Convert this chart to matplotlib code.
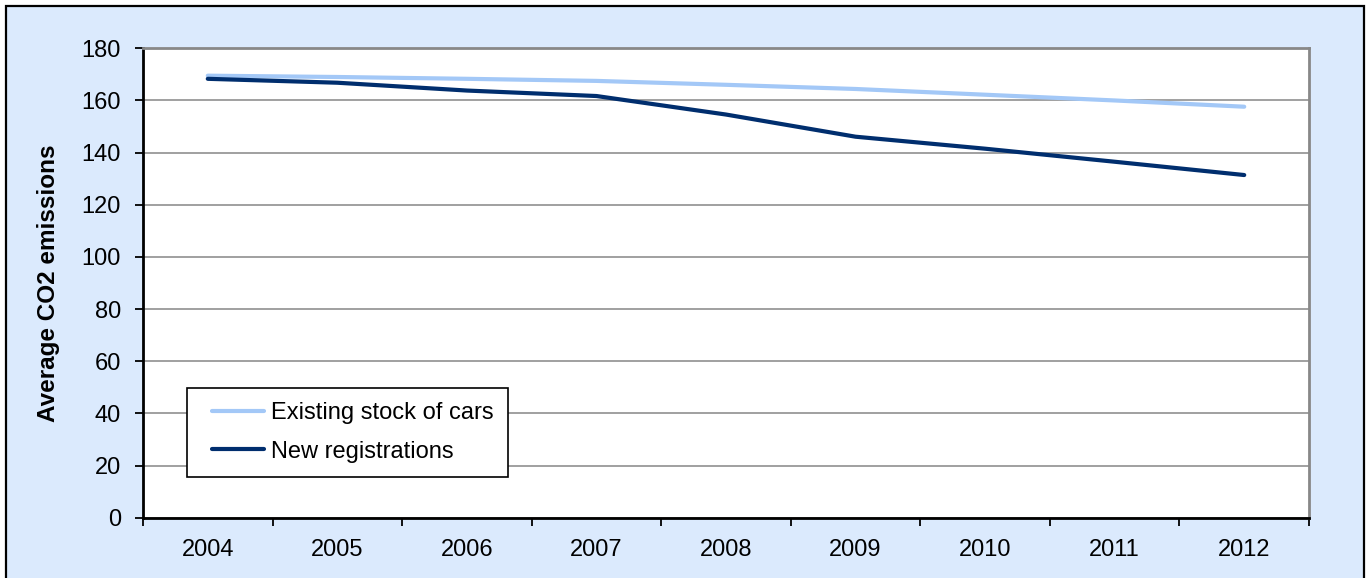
import matplotlib
matplotlib.use("Agg")
import matplotlib.pyplot as plt
from matplotlib.patches import Rectangle
from matplotlib.legend_handler import HandlerLine2D

plt.rcParams['font.family'] = ['Liberation Sans', 'DejaVu Sans']

years = ["2004", "2005", "2006", "2007", "2008", "2009", "2010", "2011", "2012"]
existing_stock = [169.5, 169.0, 168.3, 167.5, 166.0, 164.4, 162.2, 160.0, 157.6]
new_registrations = [168.3, 166.8, 163.8, 161.7, 154.6, 146.1, 141.5, 136.5, 131.4]
y_ticks = [0, 20, 40, 60, 80, 100, 120, 140, 160, 180]

W, H = 1370, 578
fig = plt.figure(figsize=(W / 100, H / 100), dpi=100)
fig.patch.set_facecolor('white')

# light blue chart panel with black frame, kept behind the axes
panel = Rectangle((6 / W, -0.05), (1364 - 6) / W, (H - 6) / H + 0.05,
                  transform=fig.transFigure, facecolor='#DBEAFD',
                  edgecolor='black', linewidth=1.6, zorder=-10)
fig.add_artist(panel)

ax = fig.add_axes([143 / W, (H - 517.7) / H, (1309 - 143) / W, (517.7 - 48.3) / H])
ax.set_zorder(1)
ax.set_facecolor('white')

x = list(range(len(years)))
l1, = ax.plot(x, existing_stock, color='#A3C8F7', lw=3.0, solid_capstyle='round',
              solid_joinstyle='round', label='Existing stock of cars', zorder=3)
l2, = ax.plot(x, new_registrations, color='#002E6E', lw=3.0, solid_capstyle='round',
              solid_joinstyle='round', label='New registrations', zorder=4)

ax.set_xlim(-0.5, len(years) - 0.5)
ax.set_ylim(0, 180)
ax.set_yticks(y_ticks)
ax.set_yticklabels([str(v) for v in y_ticks])
ax.yaxis.grid(True, color='#999999', lw=1.3)
ax.set_axisbelow(True)

# category axis: tick marks between categories, labels centred on categories
ax.set_xticks([i - 0.5 for i in range(len(years) + 1)])
ax.set_xticklabels([])
ax.set_xticks(x, minor=True)
ax.set_xticklabels(years, minor=True)
ax.tick_params(axis='x', which='major', direction='out', length=6, width=1.3, color='black')
ax.tick_params(axis='x', which='minor', length=0, pad=15, labelsize=17)
ax.tick_params(axis='y', direction='out', length=6, width=1.3, color='black',
               pad=10, labelsize=17)

for side in ('left', 'bottom'):
    ax.spines[side].set_color('black')
    ax.spines[side].set_linewidth(2)
for side in ('top', 'right'):
    ax.spines[side].set_color('#888888')
    ax.spines[side].set_linewidth(2)

ax.set_ylabel('Average CO2 emissions', fontsize=17.5, fontweight='bold', labelpad=15)

leg = ax.legend(handles=[l1, l2],
                handler_map={l1: HandlerLine2D(xpad=0.45), l2: HandlerLine2D(xpad=0.45)},
                loc='upper left', bbox_to_anchor=((187 - 143) / 1166, (517.7 - 388) / 469.4),
                borderaxespad=0, fancybox=False, framealpha=1, edgecolor='black',
                fontsize=17, handlelength=2.65, handletextpad=0.3,
                borderpad=0.6, labelspacing=0.7)
leg.get_frame().set_linewidth(1.2)

fig.savefig('out.png', dpi=100)
